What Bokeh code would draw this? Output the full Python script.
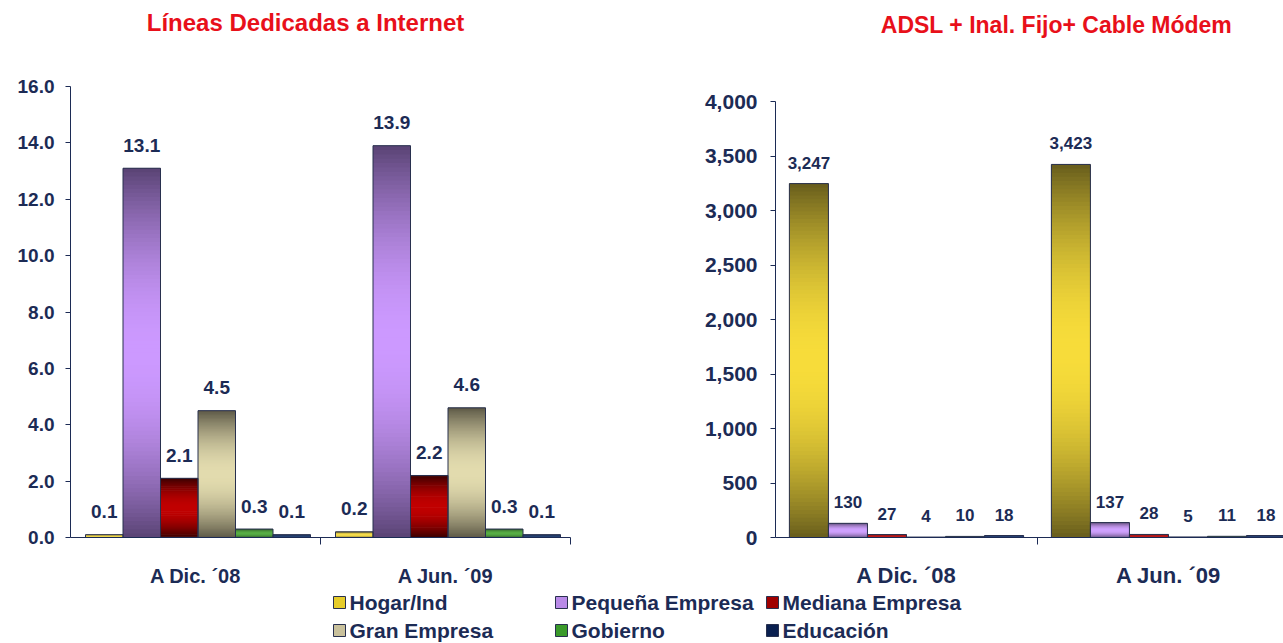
import numpy as np
from bokeh.plotting import figure
from bokeh.models import Range1d, FixedTicker, ColumnDataSource, NumeralTickFormatter
from bokeh.layouts import column, row
from bokeh.embed import file_html
from bokeh.resources import INLINE
from bokeh.core.properties import value

# ---------------- data ----------------
periods = ["A Dic. \u00b408", "A Jun. \u00b409"]
segments = ["Hogar/Ind", "Peque\u00f1a Empresa", "Mediana Empresa", "Gran Empresa", "Gobierno", "Educaci\u00f3n"]

dedicadas_dic08 = [0.1, 13.1, 2.1, 4.5, 0.3, 0.1]
dedicadas_jun09 = [0.2, 13.9, 2.2, 4.6, 0.3, 0.1]

banda_dic08 = [3247, 130, 27, 4, 10, 18]
banda_jun09 = [3423, 137, 28, 5, 11, 18]

titles = ["L\u00edneas Dedicadas a Internet", "ADSL + Inal. Fijo+ Cable M\u00f3dem"]

left_ticks = [0, 2, 4, 6, 8, 10, 12, 14, 16]
right_ticks = [0, 500, 1000, 1500, 2000, 2500, 3000, 3500, 4000]

# ---------------- styles ----------------
seg_light = ["#f7dc3a", "#cc99ff", "#c00000", "#e2dbae", "#46a632", "#12306a"]
seg_dark = ["#665c1c", "#584272", "#380000", "#5c5846", "#1c4a14", "#061838"]
seg_swatch = ["#e6cc2a", "#b98ae8", "#a00000", "#c9c19c", "#3a9a2a", "#0a2050"]

NAVY = "#1c2b55"
RED = "#e8101a"
FONT = "Liberation Sans"


def mix(c1, c2, f):
    a = [int(c1[i:i + 2], 16) for i in (1, 3, 5)]
    b = [int(c2[i:i + 2], 16) for i in (1, 3, 5)]
    m = [round(a[k] + (b[k] - a[k]) * f) for k in range(3)]
    return "#%02x%02x%02x" % tuple(m)


def add_bars(p, groups, step, offset, fmt, label_offset, label_size):
    K = 90
    gl, gr, gb, gt, gc = [], [], [], [], []
    ol, orr, ob, ot = [], [], [], []
    tx, ty, tt = [], [], []
    for g, vals in enumerate(groups):
        for s, v in enumerate(vals):
            xc = g + offset + (s - 2.5) * step
            x0, x1 = xc - step / 2, xc + step / 2
            for i in range(K):
                t = (i + 0.5) / K
                f = np.sin(np.pi * t) ** 0.9
                gl.append(x0); gr.append(x1)
                gb.append(v * i / K); gt.append(min(v, v * (i + 2.0) / K))
                gc.append(mix(seg_dark[s], seg_light[s], f))
            ol.append(x0); orr.append(x1); ob.append(0); ot.append(v)
            tx.append(xc); ty.append(v); tt.append(fmt.format(v))
    p.quad(left=gl, right=gr, bottom=gb, top=gt, fill_color=gc, line_color=None)
    p.quad(left=ol, right=orr, bottom=ob, top=ot, fill_alpha=0, line_color="#28304e", line_width=1)
    src = ColumnDataSource(dict(x=tx, y=ty, text=tt))
    p.text(x="x", y="y", text="text", source=src, text_align="center", text_baseline="middle",
           y_offset=label_offset, text_font=value(FONT), text_font_style="bold",
           text_font_size=label_size, text_color=NAVY)


def style_axes(p, yticks, yfmt, tick_size, cat_size, cat_standoff, minor, y_standoff, ybounds):
    p.xgrid.visible = False
    p.ygrid.visible = False
    p.outline_line_color = None
    xa = p.xaxis[0]
    xa.ticker = FixedTicker(ticks=[0.5, 1.5], minor_ticks=minor)
    xa.major_label_overrides = {0.5: periods[0], 1.5: periods[1]}
    xa.major_tick_out = 0
    xa.major_tick_in = 0
    xa.minor_tick_out = 7
    xa.minor_tick_in = 0
    xa.minor_tick_line_color = NAVY
    xa.axis_line_color = NAVY
    xa.major_label_text_font = FONT
    xa.major_label_text_font_style = "bold"
    xa.major_label_text_font_size = cat_size
    xa.major_label_text_color = NAVY
    xa.major_label_standoff = cat_standoff
    ya = p.yaxis[0]
    ya.ticker = FixedTicker(ticks=yticks)
    ya.formatter = NumeralTickFormatter(format=yfmt)
    ya.bounds = ybounds
    ya.major_tick_out = 5
    ya.major_tick_in = 0
    ya.minor_tick_out = 0
    ya.minor_tick_in = 0
    ya.major_tick_line_color = NAVY
    ya.axis_line_color = NAVY
    ya.major_label_text_font = FONT
    ya.major_label_text_font_style = "bold"
    ya.major_label_text_font_size = tick_size
    ya.major_label_text_color = NAVY
    ya.major_label_standoff = y_standoff


# ---------------- header with titles ----------------
head = figure(width=1283, height=44, x_range=Range1d(0, 1283), y_range=Range1d(44, 0),
              output_backend="svg", toolbar_location=None, min_border=0)
head.axis.visible = False
head.grid.visible = False
head.outline_line_color = None
head.text(x=[305, 1056], y=[22, 24], text=titles, text_align="center", text_baseline="middle",
          text_font=value(FONT), text_font_style="bold", text_font_size=["24px", "23px"], text_color=RED)

# ---------------- left chart ----------------
left = figure(width=660, height=546, x_range=Range1d(0, 2), y_range=Range1d(0, 16),
              output_backend="svg", toolbar_location=None,
              min_border_left=70, min_border_right=90, min_border_top=42, min_border_bottom=51)
style_axes(left, left_ticks, "0.0", "19px", "20px", 20, [1, 2], 11, (0, 16))
add_bars(left, [dedicadas_dic08, dedicadas_jun09], 0.15, 0.51, "{:.1f}", -23, "19px")

# ---------------- right chart ----------------
right = figure(width=623, height=546, x_range=Range1d(0, 1.939), y_range=Range1d(0, 4138),
               output_backend="svg", toolbar_location=None,
               min_border_left=115, min_border_right=0, min_border_top=42, min_border_bottom=51)
style_axes(right, right_ticks, "0,0", "21px", "22px", 18, [1], 13, (0, 4000))
add_bars(right, [banda_dic08, banda_jun09], 0.149, 0.5, "{:,.0f}", -21, "17px")

# ---------------- legend ----------------
leg = figure(width=1283, height=53, x_range=Range1d(0, 1283), y_range=Range1d(53, 0),
             output_backend="svg", toolbar_location=None, min_border=0)
leg.axis.visible = False
leg.grid.visible = False
leg.outline_line_color = None
col_x = [339, 561, 772]
row_y = [12, 40]
sx, sy, lx, lt = [], [], [], []
for k, name in enumerate(segments):
    c, r = k % 3, k // 3
    sx.append(col_x[c]); sy.append(row_y[r])
    lx.append(col_x[c] + 10); lt.append(name)
leg.rect(x=sx, y=sy, width=12, height=12, fill_color=seg_swatch, line_color="#28304e", line_width=1)
leg.text(x=lx, y=sy, text=lt, text_align="left", text_baseline="middle",
         text_font=value(FONT), text_font_style="bold", text_font_size="21px", text_color=NAVY)

layout = column(head, row(left, right), leg)
open("out.html", "w").write(file_html(layout, INLINE))
